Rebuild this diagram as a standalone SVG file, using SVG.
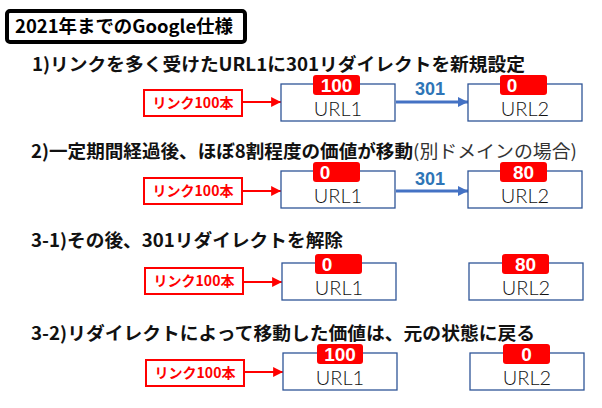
<svg xmlns="http://www.w3.org/2000/svg" width="602" height="408" viewBox="0 0 602 408">
<style>
.bg{fill:#ffffff}
.h{font-family:"Noto Sans CJK JP","Noto Sans",sans-serif;font-weight:700;font-size:18px;fill:#111111}
.hn{font-weight:400;fill:#333333}
.title{font-family:"Noto Sans CJK JP","Noto Sans",sans-serif;font-weight:700;font-size:18px;fill:#000000}
.tbox{fill:#ffffff;stroke:#000000;stroke-width:4}
.lbox{fill:#ffffff;stroke:#ff0000;stroke-width:2}
.ltxt{font-family:"Noto Sans CJK JP","Noto Sans",sans-serif;font-weight:700;font-size:14px;fill:#ff0000;text-anchor:middle}
.ubox{fill:#ffffff;stroke:#2f5597;stroke-width:1.3}
.utxt{font-family:Lato,"Open Sans",sans-serif;font-weight:300;font-size:20px;fill:#111111;text-anchor:middle}
.badge{fill:#ff0000}
.btxt{font-family:"Liberation Sans","Noto Sans",sans-serif;font-weight:700;font-size:19px;fill:#ffffff;text-anchor:middle}
.red{stroke:#ff0000;stroke-width:2.2;fill:none}
.blue{stroke:#4472c4;stroke-width:3;fill:none}
.rtxt{font-family:"Liberation Sans","Noto Sans",sans-serif;font-weight:700;font-size:18px;fill:#2e75b6;text-anchor:middle}
</style>
<defs>
<marker id="ar" viewBox="0 0 10 10" refX="10" refY="5" markerWidth="4.5" markerHeight="4.5" markerUnits="strokeWidth" orient="auto"><path d="M0,0L10,5L0,10z" fill="#ff0000"/></marker>
<marker id="ab" viewBox="0 0 10 10" refX="10" refY="5" markerWidth="3.5" markerHeight="3.5" markerUnits="strokeWidth" orient="auto"><path d="M0,0L10,5L0,10z" fill="#4472c4"/></marker>
</defs>
<rect class="bg" x="0" y="0" width="602" height="408"/>

<g id="title">
<rect class="tbox" x="7" y="11" width="238" height="31" rx="3"/>
<text class="title" x="15" y="33" textLength="218" lengthAdjust="spacingAndGlyphs">2021年までのGoogle仕様</text>
</g>

<g id="headings">
<text class="h" x="32" y="71" textLength="493" lengthAdjust="spacingAndGlyphs">1)リンクを多く受けたURL1に301リダイレクトを新規設定</text>
<text class="h" x="31" y="158" textLength="382" lengthAdjust="spacingAndGlyphs">2)一定期間経過後、ほぼ8割程度の価値が移動</text>
<text class="h hn" x="413" y="158" textLength="164" lengthAdjust="spacingAndGlyphs">(別ドメインの場合)</text>
<text class="h" x="31" y="247" textLength="312" lengthAdjust="spacingAndGlyphs">3-1)その後、301リダイレクトを解除</text>
<text class="h" x="31" y="340" textLength="504" lengthAdjust="spacingAndGlyphs">3-2)リダイレクトによって移動した価値は、元の状態に戻る</text>
</g>

<g id="connectors">
<line class="red" x1="243" y1="102" x2="281" y2="102" marker-end="url(#ar)"/>
<line class="blue" x1="396" y1="102" x2="468" y2="102" marker-end="url(#ab)"/>
<text class="rtxt" x="430" y="95">301</text>
<line class="red" x1="243" y1="191" x2="281" y2="191" marker-end="url(#ar)"/>
<line class="blue" x1="396" y1="191" x2="468" y2="191" marker-end="url(#ab)"/>
<text class="rtxt" x="430" y="185">301</text>
<line class="red" x1="244" y1="282" x2="282" y2="282" marker-end="url(#ar)"/>
<line class="red" x1="245" y1="372" x2="283" y2="372" marker-end="url(#ar)"/>
</g>

<g id="link1"><rect class="lbox" x="144" y="90" width="98" height="26"/><text class="ltxt" x="193" y="108">リンク100本</text></g>
<g id="url1-1"><rect class="ubox" x="281" y="84" width="114" height="37"/><text class="utxt" x="338" y="116">URL1</text></g>
<g id="badge1-1"><rect class="badge" x="313" y="75" width="47" height="20" rx="3"/><text class="btxt" x="336.5" y="92">100</text></g>
<g id="url2-1"><rect class="ubox" x="468" y="84" width="114" height="37"/><text class="utxt" x="525" y="116">URL2</text></g>
<g id="badge2-1"><rect class="badge" x="500" y="75" width="47" height="20" rx="3"/><text class="btxt" x="512" y="92">0</text></g>

<g id="link2"><rect class="lbox" x="144" y="178" width="98" height="26"/><text class="ltxt" x="193" y="196">リンク100本</text></g>
<g id="url1-2"><rect class="ubox" x="281" y="171" width="114" height="37"/><text class="utxt" x="338" y="203">URL1</text></g>
<g id="badge1-2"><rect class="badge" x="313" y="162" width="47" height="20" rx="3"/><text class="btxt" x="325" y="179">0</text></g>
<g id="url2-2"><rect class="ubox" x="468" y="171" width="114" height="37"/><text class="utxt" x="525" y="203">URL2</text></g>
<g id="badge2-2"><rect class="badge" x="500" y="162" width="47" height="20" rx="3"/><text class="btxt" x="523.5" y="179">80</text></g>

<g id="link3"><rect class="lbox" x="145" y="268" width="98" height="26"/><text class="ltxt" x="194" y="286">リンク100本</text></g>
<g id="url1-3"><rect class="ubox" x="282" y="263" width="114" height="37"/><text class="utxt" x="339" y="295">URL1</text></g>
<g id="badge1-3"><rect class="badge" x="315" y="254" width="47" height="20" rx="3"/><text class="btxt" x="327" y="271">0</text></g>
<g id="url2-3"><rect class="ubox" x="469" y="263" width="114" height="37"/><text class="utxt" x="526" y="295">URL2</text></g>
<g id="badge2-3"><rect class="badge" x="502" y="254" width="47" height="20" rx="3"/><text class="btxt" x="525.5" y="271">80</text></g>

<g id="link4"><rect class="lbox" x="146" y="360" width="98" height="26"/><text class="ltxt" x="195" y="378">リンク100本</text></g>
<g id="url1-4"><rect class="ubox" x="283" y="353" width="114" height="37"/><text class="utxt" x="340" y="385">URL1</text></g>
<g id="badge1-4"><rect class="badge" x="317" y="344" width="46" height="20" rx="3"/><text class="btxt" x="340" y="361">100</text></g>
<g id="url2-4"><rect class="ubox" x="470" y="353" width="114" height="37"/><text class="utxt" x="527" y="385">URL2</text></g>
<g id="badge2-4"><rect class="badge" x="503" y="344" width="47" height="20" rx="3"/><text class="btxt" x="526.5" y="361">0</text></g>
</svg>
